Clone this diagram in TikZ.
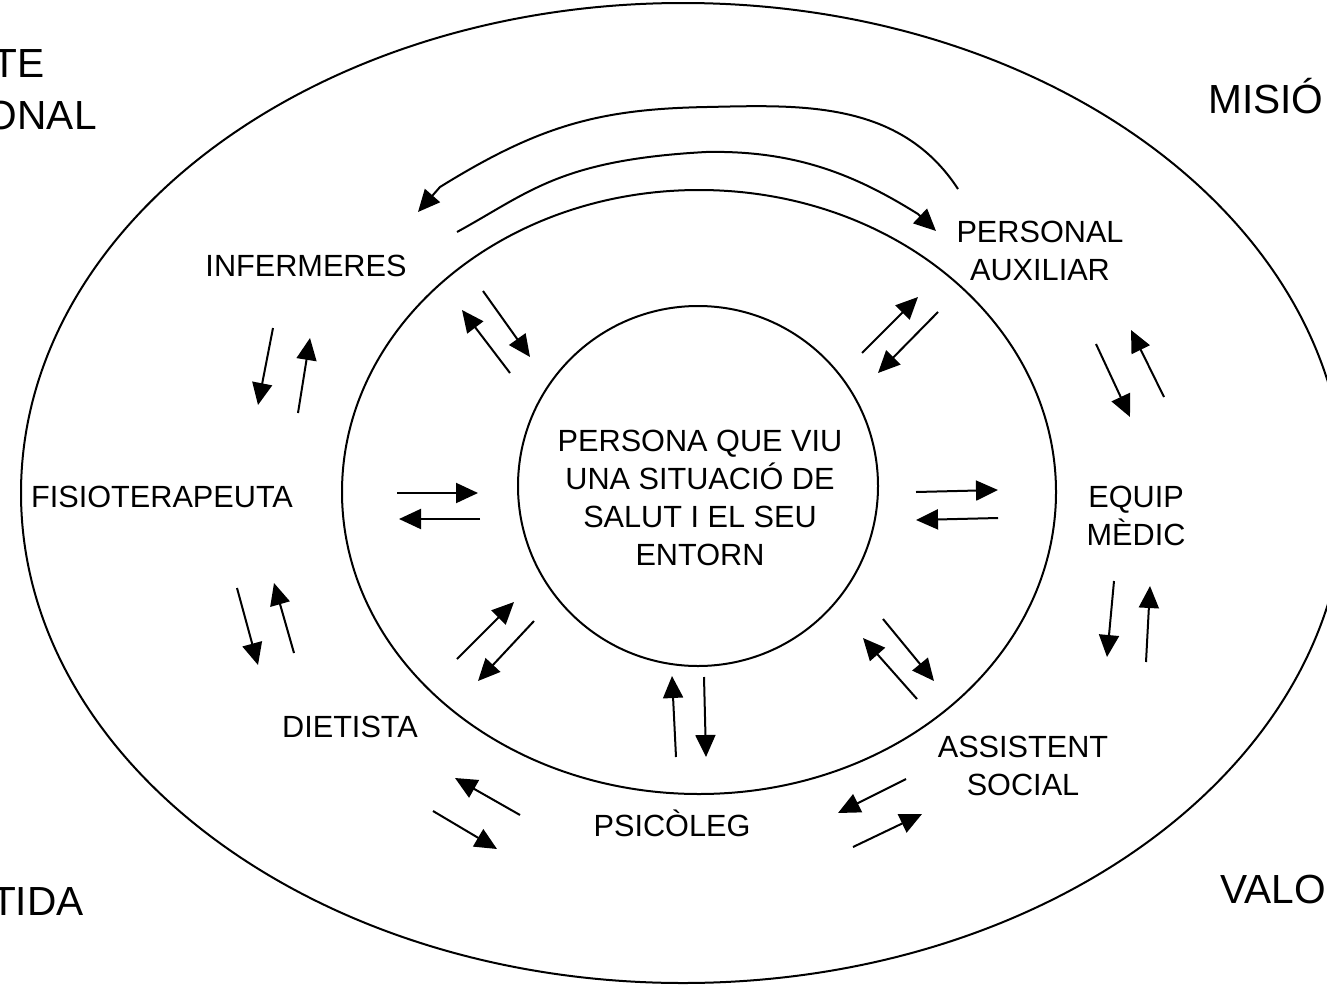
\documentclass[tikz,border=0pt]{standalone}
\usepackage{fontspec}
\setmainfont{Liberation Sans}
\usetikzlibrary{arrows.meta}
\begin{document}
\begin{tikzpicture}[x=0.75pt,y=-0.75pt,
  ring/.style={line width=1.5pt},
  arr/.style={line width=1.5pt,-{Triangle[length=16.5pt,width=15pt]}},
  lbl/.style={font=\fontsize{23pt}{28.5pt}\selectfont,align=center,inner sep=0pt},
  big/.style={font=\fontsize{30.5pt}{36pt}\selectfont,inner sep=0pt}]
\useasboundingbox (0,0) rectangle (1327,985);
\clip (0,0) rectangle (1327,985);
\fill[white] (0,0) rectangle (1327,985);
% rings
\draw[ring] (683,493) ellipse [x radius=662, y radius=490];
\draw[ring] (699,492) ellipse [x radius=357, y radius=302];
\draw[ring] (698,486) circle [radius=180];
% corner texts
\node[big,anchor=base east] (te) at (45,77) {TE};
\node[big,anchor=base east] (onal) at (97,129) {ONAL};
\node[big,anchor=base west] (misio) at (1208,113) {MISIÓ};
\node[big,anchor=base east] (tida) at (84,915) {TIDA};
\node[big,anchor=base west] (valo) at (1220,903) {VALO};
% labels
\node[lbl] (center) at (700,498) {PERSONA QUE VIU\\UNA SITUACIÓ DE\\SALUT I EL SEU\\ENTORN};
\node[lbl] (inf) at (306,266) {INFERMERES};
\node[lbl] (pers) at (1040,251) {PERSONAL\\AUXILIAR};
\node[lbl] (fis) at (162,497) {FISIOTERAPEUTA};
\node[lbl] (equip) at (1136,516) {EQUIP\\MÈDIC};
\node[lbl] (diet) at (350,727) {DIETISTA};
\node[lbl] (psic) at (672,823) {PSICÒLEG};
\node[lbl] (asst) at (1023,766) {ASSISTENT\\SOCIAL};
% arrow end points
\foreach \n/\x/\y in {
 a1s/273/328, a1e/258/405, a2s/298/413, a2e/310/338,
 a3s/510/373, a3e/462/310, a4s/483/291, a4e/530/357,
 a5s/862/353, a5e/918/297, a6s/938/312, a6e/878/373,
 a7s/1096/344, a7e/1130/417, a8s/1164/397, a8e/1131/330,
 a9s/397/493, a9e/478/493, a10s/480/519, a10e/399/519,
 a11s/916/492, a11e/998/490, a12s/998/518, a12e/916/520,
 a13s/237/588, a13e/258/665, a14s/294/653, a14e/274/583,
 a15s/457/659, a15e/514/602, a16s/534/621, a16e/478/681,
 a17s/676/757, a17e/672/676, a18s/704/677, a18e/706/757,
 a19s/917/699, a19e/863/638, a20s/883/619, a20e/934/681,
 a21s/1114/581, a21e/1107/657, a22s/1146/662, a22e/1150/586,
 a23s/520/815, a23e/455/778, a24s/433/811, a24e/497/849,
 a25s/906/779, a25e/838/813, a26s/853/847, a26e/922/814}
 {\coordinate (\n) at (\x,\y);}
\foreach \i in {1,...,26} {\draw[arr] (a\i s) -- (a\i e);}
% curved arrows
\coordinate (c1s) at (958,189);
\coordinate (c1e) at (418,212);
\coordinate (c2s) at (457,232);
\coordinate (c2e) at (936,231);
\draw[arr] (c1s) .. controls (900,100) and (800,105) .. (707,107)
  .. controls (600,109) and (540,125) .. (440,187) -- (c1e);
\draw[arr] (c2s) .. controls (530,192) and (560,160) .. (706,152)
  .. controls (800,150) and (860,178) .. (918,214) -- (c2e);
\end{tikzpicture}
\end{document}
